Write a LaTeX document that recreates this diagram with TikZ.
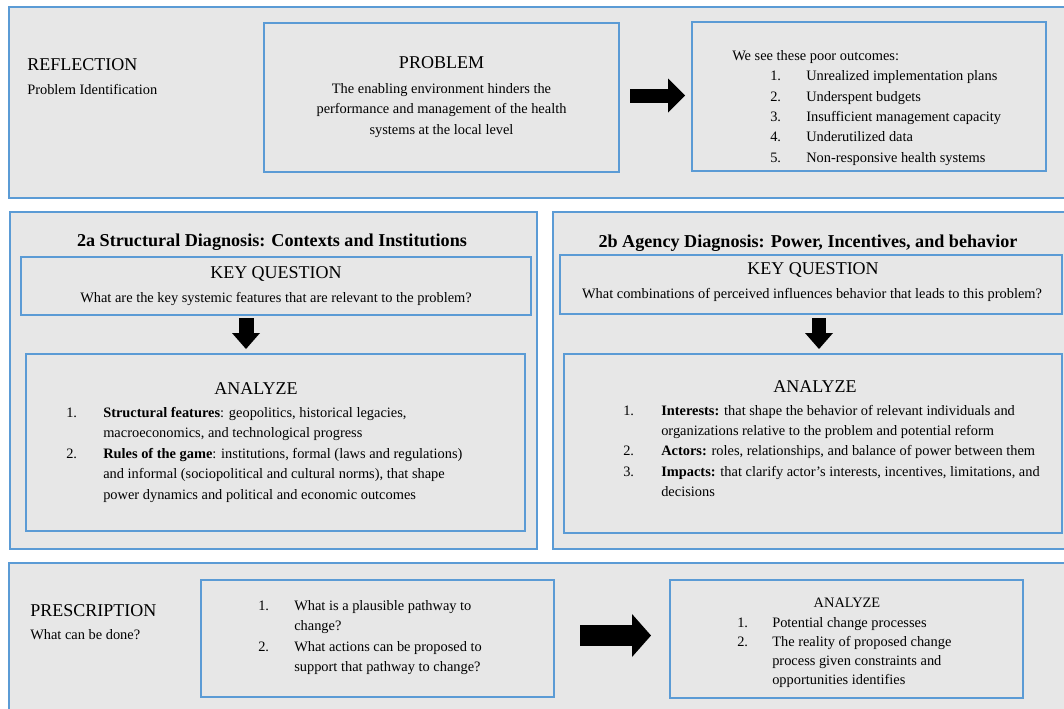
\documentclass[tikz,border=0pt]{standalone}
\usepackage{fontspec}
\setmainfont{Liberation Serif}
\usetikzlibrary{positioning,arrows.meta}
\definecolor{boxblue}{HTML}{5B9BD5}
\definecolor{panelgray}{HTML}{E7E7E7}
\newcommand{\ttlfont}{\fontsize{13.5}{16}\selectfont}
\newcommand{\hdfont}{\fontsize{13.6}{16}\selectfont\bfseries}
\newcommand{\bodyfont}{\fontsize{10.8}{15.4}\selectfont}
\newcommand{\itemno}[2][27pt]{\makebox[#1][l]{#2}}
\tikzset{
    x=0.75pt, y=-0.75pt, % one unit is one pixel of the page, y runs down
    panelframe/.style={draw=boxblue, fill=panelgray, line width=1.3pt, inner sep=0pt, outer sep=0pt}, % panels and boxes
    ttltext/.style={font=\ttlfont, inner sep=0pt, anchor=base}, % REFLECTION, KEY QUESTION, ...
    headtext/.style={font=\hdfont, inner sep=0pt, anchor=base}, % bold panel headings
    bodytext/.style={font=\bodyfont, inner sep=0pt, align=left, anchor=north west}, % plain text blocks
    blockarrow/.style args={#1/#2/#3}{line width=#1, -{Triangle[length=#2, width=#3, line width=0pt]}}, % shaft/head length/head width
}

\begin{document}
\begin{tikzpicture}
      \useasboundingbox (0,0) rectangle (1064,708);
      \clip (0,0) rectangle (1064,708);
      % panels
      \node (p_reflection) [panelframe, minimum width=799.5pt, minimum height=143.25pt] at (542,102.5) {};
      \node (p_structural) [panelframe, minimum width=395.25pt, minimum height=252.75pt] at (273.5,380.5) {};
      \node (p_agency) [panelframe, minimum width=391.5pt, minimum height=252.75pt] at (814,380.5) {};
      \node (p_prescription) [panelframe, minimum width=799.5pt, minimum height=114pt] at (542,639) {};
      % boxes
      \node (b_problem) [panelframe, minimum width=266.25pt, minimum height=111.75pt] at (441.5,97.5) {};
      \node (b_outcomes) [panelframe, minimum width=265.5pt, minimum height=111.75pt] at (869,96.5) {};
      \node (b_keyA) [panelframe, minimum width=382.5pt, minimum height=43.5pt] at (276,286) {};
      \node (b_anaA) [panelframe, minimum width=374.25pt, minimum height=132.75pt] at (275.5,442.5) {};
      \node (b_keyB) [panelframe, minimum width=376.5pt, minimum height=44.25pt] at (811,284.5) {};
      \node (b_anaB) [panelframe, minimum width=373.5pt, minimum height=134.25pt] at (813,443.5) {};
      \node (b_pathway) [panelframe, minimum width=264.75pt, minimum height=87.75pt] at (377.5,638.5) {};
      \node (b_change) [panelframe, minimum width=264.75pt, minimum height=88.5pt] at (846.5,639) {};

      % reflection
      \node (t_reflection) [ttltext, anchor=base west] at (27,70) {REFLECTION};
      \node (t_reflsub) [bodytext, below=18pt of t_reflection.base west, anchor=base west] {Problem Identification};
      \node (t_problem) [ttltext] at (441.5,68) {PROBLEM};
      \node (t_problemtxt) [bodytext, anchor=north, align=center] at (441.5,78.6)
            {\strut The enabling environment hinders the\\performance and management of the health\\systems at the local level};
      \node (t_outcomes) [bodytext, font=\fontsize{10.8}{15.3}\selectfont] at (732,45.7)
            {\strut We see these poor outcomes:\\
             \hspace*{28.5pt}\itemno{1.}Unrealized implementation plans\\
             \hspace*{28.5pt}\itemno{2.}Underspent budgets\\
             \hspace*{28.5pt}\itemno{3.}Insufficient management capacity\\
             \hspace*{28.5pt}\itemno{4.}Underutilized data\\
             \hspace*{28.5pt}\itemno{5.}Non-responsive health systems};

      % structural diagnosis
      \node (t_headA) [headtext] at (272,246) {2a Structural Diagnosis: Contexts and Institutions};
      \node (t_keyA) [ttltext] at (276,278) {KEY QUESTION};
      \node (t_questA) [bodytext, anchor=base] at (276,302) {What are the key systemic features that are relevant to the problem?};
      \node (t_anaA) [ttltext] at (256,394) {ANALYZE};
      \node (t_listA) [bodytext] at (66,402.6)
            {\strut\itemno[27.75pt]{1.}\textbf{Structural features}: geopolitics, historical legacies,\\
             \hspace*{27.75pt}macroeconomics, and technological progress\\
             \itemno[27.75pt]{2.}\textbf{Rules of the game}: institutions, formal (laws and regulations)\\
             \hspace*{27.75pt}and informal (sociopolitical and cultural norms), that shape\\
             \hspace*{27.75pt}power dynamics and political and economic outcomes};

      % agency diagnosis
      \node (t_headB) [headtext] at (808,247) {2b Agency Diagnosis: Power, Incentives, and behavior};
      \node (t_keyB) [ttltext] at (813,274) {KEY QUESTION};
      \node (t_questB) [bodytext, anchor=base] at (812,298) {What combinations of perceived influences behavior that leads to this problem?};
      \node (t_anaB) [ttltext] at (815,392) {ANALYZE};
      \node (t_listB) [bodytext, font=\fontsize{10.8}{15.2}\selectfont] at (623,400.8)
            {\strut\itemno[28.5pt]{1.}\textbf{Interests:} that shape the behavior of relevant individuals and\\
             \hspace*{28.5pt}organizations relative to the problem and potential reform\\
             \itemno[28.5pt]{2.}\textbf{Actors:} roles, relationships, and balance of power between them\\
             \itemno[28.5pt]{3.}\textbf{Impacts:} that clarify actor’s interests, incentives, limitations, and\\
             \hspace*{28.5pt}decisions};

      % prescription
      \node (t_prescription) [ttltext, anchor=base west] at (30,616) {PRESCRIPTION};
      \node (t_prescsub) [bodytext, below=17.25pt of t_prescription.base west, anchor=base west] {What can be done?};
      \node (t_pathway) [bodytext] at (258,595.6)
            {\strut\itemno{1.}What is a plausible pathway to\\
             \hspace*{27pt}change?\\
             \itemno{2.}What actions can be proposed to\\
             \hspace*{27pt}support that pathway to change?};
      \node (t_anaC) [bodytext, anchor=base] at (847,607) {ANALYZE};
      \node (t_change) [bodytext, font=\fontsize{10.8}{14.4}\selectfont] at (737,613.6)
            {\strut\itemno[26.25pt]{1.}Potential change processes\\
             \itemno[26.25pt]{2.}The reality of proposed change\\
             \hspace*{26.25pt}process given constraints and\\
             \hspace*{26.25pt}opportunities identifies};

      % block arrows
      \draw[blockarrow=10.5pt/12.75pt/25.5pt, shorten <=8.25pt, shorten >=5.25pt] (b_problem.east |- 0,95.5) -- (b_outcomes.west |- 0,95.5);
      \draw[blockarrow=11.25pt/12pt/21pt, shorten <=2.25pt, shorten >=3.75pt] (b_keyA.south -| 246,0) -- (b_anaA.north -| 246,0);
      \draw[blockarrow=10.5pt/12pt/21pt, shorten <=3pt, shorten >=3.75pt] (b_keyB.south -| 819,0) -- (b_anaB.north -| 819,0);
      \draw[blockarrow=15.75pt/14.25pt/32.25pt, shorten <=19.5pt, shorten >=14.25pt] (b_pathway.east |- 0,635.5) -- (b_change.west |- 0,635.5);
\end{tikzpicture}
\end{document}
